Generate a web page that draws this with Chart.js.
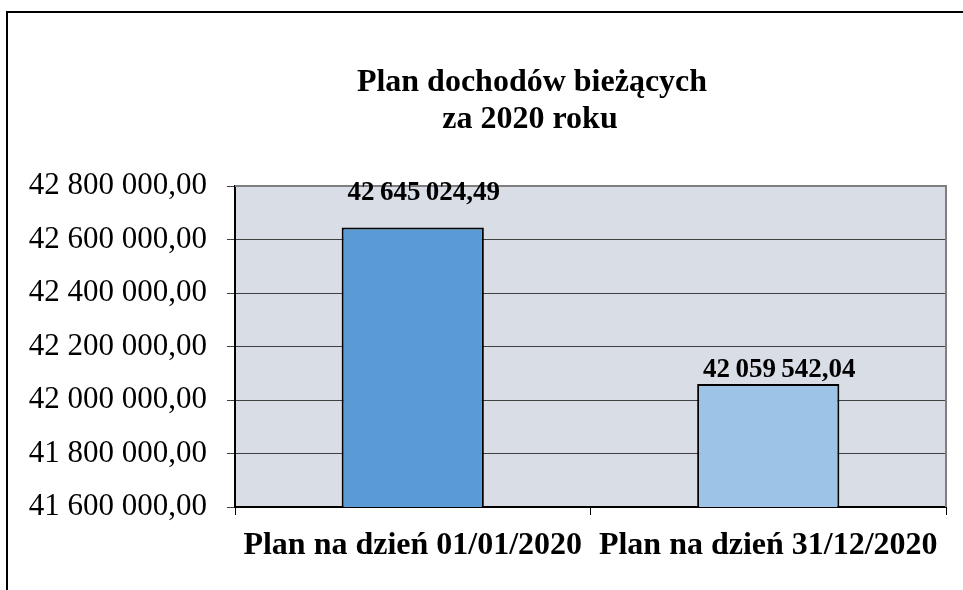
<!DOCTYPE html>
<html>
<head>
<meta charset="utf-8">
<script src="https://cdn.jsdelivr.net/npm/chart.js@4/dist/chart.umd.min.js"></script>
<style>
html,body{margin:0;padding:0;background:#fff;}
#wrap{position:relative;width:963px;height:590px;}
canvas{display:block;}
</style>
</head>
<body>
<div id="wrap"><canvas id="c" width="963" height="590"></canvas></div>
<script>
const titleLines = ["Plan dochodów bieżących", "za 2020 roku"];
const categories = ["Plan na dzień 01/01/2020", "Plan na dzień 31/12/2020"];
const values = [42645024.49, 42059542.04];
const barColors = ["#5b9bd5", "#9dc3e6"];
const yMin = 41600000, yMax = 42800000, yStep = 200000;

function fmtPL(v, sep) {
  const s = Math.abs(v).toFixed(2);
  const [i, d] = s.split(".");
  const grouped = i.replace(/\B(?=(\d{3})+(?!\d))/g, sep || " ");
  return (v < 0 ? "-" : "") + grouped + "," + d;
}

const FONT = "'Liberation Serif', 'Times New Roman', serif";

const decor = {
  id: "decor",
  beforeDraw(chart) {
    const ctx = chart.ctx, a = chart.chartArea;
    ctx.save();
    ctx.fillStyle = "#fff";
    ctx.fillRect(0, 0, chart.width, chart.height);
    ctx.fillStyle = "#d9dde6";
    ctx.fillRect(a.left, a.top, a.right - a.left, a.bottom - a.top);
    // outer frame
    ctx.strokeStyle = "#000";
    ctx.lineWidth = 2;
    ctx.beginPath();
    ctx.moveTo(7, chart.height);
    ctx.lineTo(7, 12);
    ctx.lineTo(chart.width, 12);
    ctx.stroke();
    // title
    ctx.fillStyle = "#000";
    ctx.font = "bold 32px " + FONT;
    ctx.textAlign = "center";
    ctx.textBaseline = "alphabetic";
    ctx.fillText(titleLines[0], 532, 91);
    ctx.fillText(titleLines[1], 530, 128);
    ctx.restore();
  },
  afterDatasetsDraw(chart, args, opts) {
    const ctx = chart.ctx, a = chart.chartArea;
    ctx.save();
    // top and right border of plot
    ctx.strokeStyle = "#7f7f7f";
    ctx.lineWidth = 2;
    ctx.beginPath();
    ctx.moveTo(a.left, a.top);
    ctx.lineTo(a.right, a.top);
    ctx.lineTo(a.right, a.bottom);
    ctx.stroke();
    // data labels
    const meta = chart.getDatasetMeta(0);
    ctx.fillStyle = "#000";
    ctx.font = "bold 27px " + FONT;
    ctx.textAlign = "center";
    ctx.textBaseline = "alphabetic";
    meta.data.forEach((bar, i) => {
      const lift = opts.lifts[i];
      ctx.fillText(fmtPL(values[i], "\u2009"), bar.x + 11, bar.y - lift);
    });
    ctx.restore();
  }
};

new Chart(document.getElementById("c"), {
  type: "bar",
  data: {
    labels: categories,
    datasets: [{
      data: values,
      backgroundColor: barColors,
      borderColor: "#000",
      borderWidth: 2,
      borderSkipped: false,
      barPercentage: 0.4,
      categoryPercentage: 1.0
    }]
  },
  options: {
    responsive: false,
    animation: false,
    devicePixelRatio: 1,
    layout: { padding: { top: 186, right: 17, left: 0, bottom: 0 } },
    plugins: {
      legend: { display: false },
      title: { display: false },
      tooltip: { enabled: false },
      decor: { lifts: [27, 7] }
    },
    scales: {
      x: {
        grid: { display: true, drawOnChartArea: false, drawTicks: true, tickLength: 8, color: "#000", offset: true },
        border: { display: true, color: "#000", width: 2 },
        ticks: { color: "#000", font: { family: FONT, size: 32, weight: "bold" }, padding: 12, maxRotation: 0, autoSkip: false },
        afterFit(s) { s.height = 590 - 507; }
      },
      y: {
        min: yMin, max: yMax,
        grid: { color: "#404040", lineWidth: 1, drawTicks: true, tickLength: 8 },
        border: { display: true, color: "#000", width: 2 },
        ticks: {
          stepSize: yStep, color: "#000",
          font: { family: FONT, size: 31 },
          padding: 20,
          callback: v => fmtPL(v)
        },
        afterFit(s) { s.width = 235; }
      }
    }
  },
  plugins: [decor]
});
</script>
</body>
</html>
